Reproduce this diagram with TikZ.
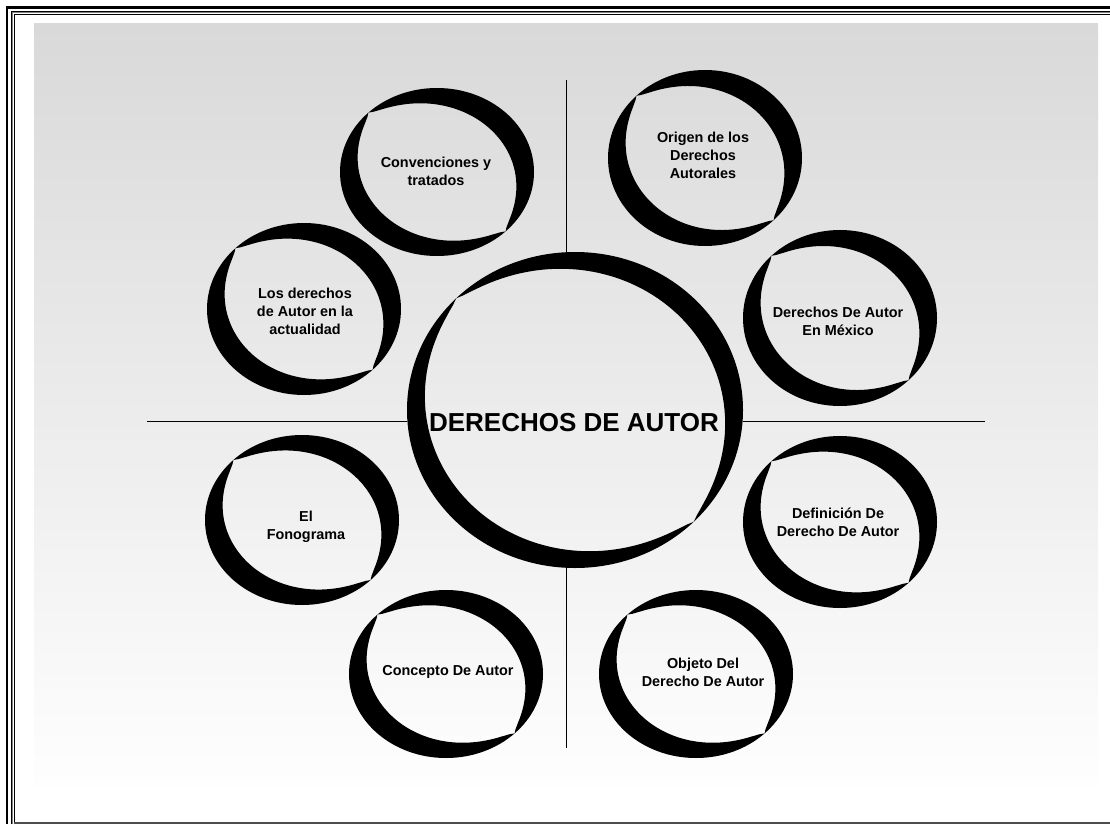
\documentclass[tikz,border=0pt]{standalone}
\usepackage{fontspec}
\setmainfont{Liberation Sans}
\usepackage{xcolor}
\usetikzlibrary{shapes.geometric}

\definecolor{bgtop}{HTML}{D9D9D9}
\definecolor{bgbot}{HTML}{FEFEFE}

\tikzset{
  ring/.pic={
    \fill[black,even odd rule] (0,0) circle (1)
      plot[domain=0:357.5,samples=144,variable=\t]
      ({cos(\t)*(1-#1*(abs(sin(\t-45))+0.00001)^0.7)},{sin(\t)*(1-#1*(abs(sin(\t-45))+0.00001)^0.7)}) -- cycle;
  },
  lbl/.style={align=center,inner sep=0pt,font=\bfseries\fontsize{14.4}{18}\selectfont}
}

\begin{document}
\begin{tikzpicture}[x=1pt,y=-1pt]
            \useasboundingbox (0,0) rectangle (1110,824);
            \fill[white] (0,0) rectangle (1110,824);
            \shade[top color=bgtop,bottom color=bgbot] (34,24) rectangle (1098,787);

            % frame
            \draw[line width=2.3] (7.2,824) -- (7.2,7.5) -- (1110,7.5);
            \draw[line width=1.5] (11.3,824) -- (11.3,11.4) -- (1110,11.4);
            \draw[line width=1,gray] (12.9,824) -- (12.9,13) -- (1110,13);
            \draw[line width=1.4] (14.5,824) -- (14.5,14.6) -- (1110,14.6);
            \draw[line width=1.3,black!70] (14,823) -- (1110,823);

            % centre
            \node (main) at (575,410) [ellipse,minimum width=336,minimum height=316,inner sep=0pt] {};
            \coordinate (hl) at (147,421);
            \coordinate (hr) at (985,421);
            \coordinate (vt) at (566,80);
            \coordinate (vb) at (566,748);
            \draw[line width=0.9] (hl) -- (hl -| main.west) (hr) -- (hr -| main.east);
            \draw[line width=0.9] (vt) -- (vt |- main.north) (vb) -- (vb |- main.south);
            \pic[xscale=168,yscale=158] at (main) {ring=0.14};
            \node (mainlbl) at (574,423) [inner sep=0pt,font=\bfseries\fontsize{26}{30}\selectfont] {DERECHOS DE AUTOR};

            % outer rings
            \pic[xscale=97,yscale=84] at (437,172) {ring=0.25};
            \pic[xscale=97,yscale=88] at (705,158) {ring=0.25};
            \pic[xscale=97,yscale=86] at (304,309) {ring=0.25};
            \pic[xscale=97,yscale=88] at (840,318) {ring=0.25};
            \pic[xscale=97,yscale=86] at (840,522) {ring=0.25};
            \pic[xscale=97,yscale=85] at (302,520) {ring=0.25};
            \pic[xscale=97,yscale=84] at (446,674) {ring=0.25};
            \pic[xscale=97,yscale=84] at (696,674) {ring=0.25};

            \node[lbl] (conv) at (436,171) {Convenciones y\\tratados};
            \node[lbl] (orig) at (703,155) {Origen de los\\Derechos\\Autorales};
            \node[lbl] (hoy) at (305,311) {Los derechos\\de Autor en la\\actualidad};
            \node[lbl] (mex) at (838,321) {Derechos De Autor\\En México};
            \node[lbl] (defi) at (838,522) {Definición De\\Derecho De Autor};
            \node[lbl] (fono) at (306,527) {El\\Fonograma};
            \node[lbl] (conc) at (448,672) {Concepto De Autor};
            \node[lbl] (obj) at (703,672) {Objeto Del\\Derecho De Autor};

        \end{tikzpicture}
\end{document}
